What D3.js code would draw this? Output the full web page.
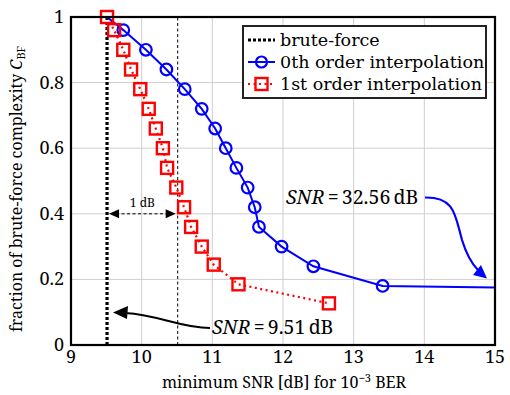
<!DOCTYPE html>
<html>
<head>
<meta charset="utf-8">
<script src="https://cdn.jsdelivr.net/npm/d3@7"></script>
<style>
  body { margin: 0; background: #fff; }
</style>
</head>
<body>
<div id="chart"></div>
<script>
const xTicks = [9, 10, 11, 12, 13, 14, 15];
const yTicks = [0, 0.2, 0.4, 0.6, 0.8, 1];
const yTickLabels = ["0", "0.2", "0.4", "0.6", "0.8", "1"];

const bruteForceSnr = 9.51;
const refSnr = 10.51;

const zerothSnr = [9.51, 9.74, 10.06, 10.35, 10.61, 10.85, 11.04, 11.19, 11.34, 11.5, 11.6, 11.66, 11.98, 12.43, 13.41, 32.56];
const zerothC = [1.0, 0.96, 0.9, 0.84, 0.78, 0.72, 0.66, 0.6, 0.54, 0.48, 0.42, 0.36, 0.3, 0.24, 0.18, 0.12];

const firstSnr = [9.51, 9.61, 9.74, 9.85, 9.98, 10.1, 10.2, 10.3, 10.36, 10.49, 10.6, 10.7, 10.85, 11.02, 11.37, 12.65];
const firstC = [1.0, 0.96, 0.9, 0.84, 0.78, 0.72, 0.66, 0.6, 0.54, 0.48, 0.42, 0.36, 0.3, 0.245, 0.185, 0.127];

const legendLabels = ["brute-force", "0th order interpolation", "1st order interpolation"];

const FONT = "'Noto Serif', 'Liberation Serif', 'DejaVu Serif', serif";
const width = 510, height = 395;
const margin = { left: 71, right: 15, top: 17, bottom: 50 };

const svg = d3.select("#chart").append("svg")
  .attr("width", width).attr("height", height)
  .attr("font-family", FONT)
  .style("display", "block");

const x = d3.scaleLinear().domain([9, 15]).range([margin.left, width - margin.right]);
const y = d3.scaleLinear().domain([0, 1]).range([height - margin.bottom, margin.top]);

svg.append("defs").append("clipPath").attr("id", "plot-clip")
  .append("rect")
  .attr("x", x(9)).attr("y", y(1) - 10)
  .attr("width", x(15) - x(9)).attr("height", y(0) - y(1) + 10);

// grid
svg.append("g").selectAll("line").data(xTicks).join("line")
  .attr("x1", (d) => x(d)).attr("x2", (d) => x(d))
  .attr("y1", y(0)).attr("y2", y(1))
  .attr("stroke", "#cfcfcf").attr("stroke-width", 1);
svg.append("g").selectAll("line").data(yTicks).join("line")
  .attr("x1", x(9)).attr("x2", x(15))
  .attr("y1", (d) => y(d)).attr("y2", (d) => y(d))
  .attr("stroke", "#cfcfcf").attr("stroke-width", 1);

// tick labels
svg.append("g").selectAll("text").data(xTicks).join("text")
  .attr("x", (d) => x(d)).attr("y", y(0) + 18)
  .attr("text-anchor", "middle").attr("font-size", 18).text((d) => d);
svg.append("g").selectAll("text").data(yTicks).join("text")
  .attr("x", x(9) - 7).attr("y", (d) => y(d) + 6)
  .attr("text-anchor", "end").attr("font-size", 18).text((d, i) => yTickLabels[i]);

// axis labels
const xl = svg.append("text").attr("x", 284).attr("y", 388)
  .attr("text-anchor", "middle").attr("font-size", 16);
xl.append("tspan").text("minimum SNR [dB] for 10");
xl.append("tspan").attr("dy", -6).attr("font-size", 11).text("\u22123");
xl.append("tspan").attr("dy", 6).text(" BER");

const yl = svg.append("text").attr("transform", `translate(22,${(y(0) + y(1)) / 2 + 8}) rotate(-90)`)
  .attr("text-anchor", "middle").attr("font-size", 16);
yl.append("tspan").text("fraction of brute-force complexity ");
yl.append("tspan").attr("font-style", "italic").text("C");
yl.append("tspan").attr("dy", 3).attr("font-size", 11).text("BF");

const plot = svg.append("g").attr("clip-path", "url(#plot-clip)");

// reference lines
plot.append("line")
  .attr("x1", x(refSnr)).attr("x2", x(refSnr)).attr("y1", y(0)).attr("y2", y(1))
  .attr("stroke", "#000").attr("stroke-width", 1).attr("stroke-dasharray", "3,2.5");
plot.append("line")
  .attr("x1", x(bruteForceSnr)).attr("x2", x(bruteForceSnr)).attr("y1", y(0)).attr("y2", y(1))
  .attr("stroke", "#000").attr("stroke-width", 3.2).attr("stroke-dasharray", "3,2");

// 1 dB double arrow
const arrowY = y(0.4);
plot.append("line")
  .attr("x1", x(bruteForceSnr) + 9).attr("x2", x(refSnr) - 9)
  .attr("y1", arrowY).attr("y2", arrowY)
  .attr("stroke", "#000").attr("stroke-width", 1).attr("stroke-dasharray", "3,2.5");
[[x(bruteForceSnr) + 2, 1], [x(refSnr) - 2, -1]].forEach(([tx, dir]) => {
  plot.append("path")
    .attr("d", `M${tx},${arrowY} L${tx + dir * 10},${arrowY - 4.5} L${tx + dir * 10},${arrowY + 4.5} Z`)
    .attr("fill", "#000");
});
plot.append("text").attr("x", (x(bruteForceSnr) + x(refSnr)) / 2).attr("y", arrowY - 7)
  .attr("text-anchor", "middle").attr("font-size", 12).text("1 dB");

// series
const zeroth = zerothSnr.map((s, i) => ({ s, c: zerothC[i] }));
const first = firstSnr.map((s, i) => ({ s, c: firstC[i] }));
const line = d3.line().x((d) => x(d.s)).y((d) => y(d.c));

plot.append("path").datum(first).attr("d", line)
  .attr("fill", "none").attr("stroke", "#f00").attr("stroke-width", 2.2)
  .attr("stroke-dasharray", "2,3.5");
plot.append("path").datum(zeroth).attr("d", line)
  .attr("fill", "none").attr("stroke", "#00f").attr("stroke-width", 2);

plot.selectAll("circle").data(zeroth.filter((d) => d.s > 9.6)).join("circle")
  .attr("cx", (d) => x(d.s)).attr("cy", (d) => y(d.c)).attr("r", 5.8)
  .attr("fill", "none").attr("stroke", "#00f").attr("stroke-width", 2.2);
plot.selectAll("rect.mk").data(first).join("rect")
  .attr("class", "mk")
  .attr("x", (d) => x(d.s) - 6).attr("y", (d) => y(d.c) - 6)
  .attr("width", 12).attr("height", 12)
  .attr("fill", "none").attr("stroke", "#f00").attr("stroke-width", 2.4);

// frame
svg.append("rect")
  .attr("x", x(9)).attr("y", y(1)).attr("width", x(15) - x(9)).attr("height", y(0) - y(1))
  .attr("fill", "none").attr("stroke", "#000").attr("stroke-width", 2.2);

// annotations
const a1 = svg.append("text").attr("x", 212).attr("y", 334).attr("font-size", 19.5);
a1.append("tspan").attr("font-style", "italic").text("SNR");
a1.append("tspan").text("\u2009=\u20099.51\u2009dB");
svg.append("path")
  .attr("d", "M210,328 C180,328 160,315 125,313")
  .attr("fill", "none").attr("stroke", "#000").attr("stroke-width", 2.2);
svg.append("path")
  .attr("d", "M113,312.5 L128,306 L127,319 Z").attr("fill", "#000");

const a2 = svg.append("text").attr("x", 286).attr("y", 204).attr("font-size", 19.5);
a2.append("tspan").attr("font-style", "italic").text("SNR");
a2.append("tspan").text("\u2009=\u200932.56\u2009dB");
svg.append("path")
  .attr("d", "M425,197.5 C455,197 455,215 462,240 C467,256 472,264 478,270")
  .attr("fill", "none").attr("stroke", "#00f").attr("stroke-width", 2.2);
svg.append("path")
  .attr("d", "M487,278.5 L473,275 L481,265 Z").attr("fill", "#00f");

// legend
const lg = svg.append("g");
lg.append("rect").attr("x", 243).attr("y", 26).attr("width", 243).attr("height", 72)
  .attr("fill", "#fff").attr("stroke", "#222").attr("stroke-width", 2);
const rowY = [40, 62, 84];
lg.append("line").attr("x1", 248).attr("x2", 275).attr("y1", rowY[0]).attr("y2", rowY[0])
  .attr("stroke", "#000").attr("stroke-width", 3.2).attr("stroke-dasharray", "3,2");
lg.append("line").attr("x1", 248).attr("x2", 275).attr("y1", rowY[1]).attr("y2", rowY[1])
  .attr("stroke", "#00f").attr("stroke-width", 2);
lg.append("circle").attr("cx", 261.5).attr("cy", rowY[1]).attr("r", 5.5)
  .attr("fill", "none").attr("stroke", "#00f").attr("stroke-width", 2.2);
lg.append("line").attr("x1", 248).attr("x2", 275).attr("y1", rowY[2]).attr("y2", rowY[2])
  .attr("stroke", "#f00").attr("stroke-width", 2.2).attr("stroke-dasharray", "2,3.5");
lg.append("rect").attr("x", 255.5).attr("y", rowY[2] - 6).attr("width", 12).attr("height", 12)
  .attr("fill", "none").attr("stroke", "#f00").attr("stroke-width", 2.4);
lg.selectAll("text").data(legendLabels).join("text")
  .attr("x", 280).attr("y", (d, i) => rowY[i] + 6)
  .attr("font-family", "'DejaVu Serif', serif")
  .attr("font-size", 17.5).text((d) => d);
</script>
</body>
</html>
